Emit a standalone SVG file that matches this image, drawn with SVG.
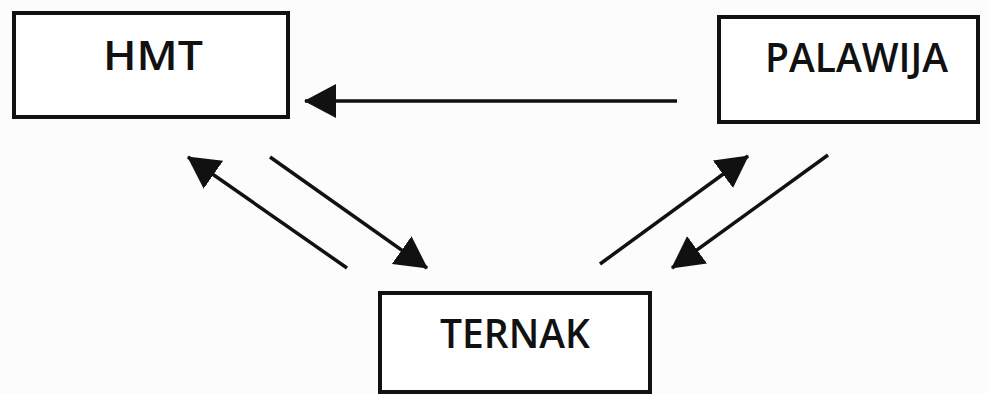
<svg xmlns="http://www.w3.org/2000/svg" width="988" height="394" viewBox="0 0 988 394">
<defs>
<style>
.box{fill:#fefefe;stroke:#111;stroke-width:4}
.lbl{font-family:"Open Sans","Liberation Sans",sans-serif;font-weight:600;font-size:39px;fill:#111}
.con{stroke:#111;stroke-width:3.5;fill:none;marker-end:url(#ah)}
</style>
<marker id="ah" markerUnits="userSpaceOnUse" markerWidth="34" markerHeight="34" viewBox="0 0 34 34" refX="31" refY="17" orient="auto">
<path d="M0,0 L32,17 L0,34 Z" fill="#111"/>
</marker>
</defs>
<rect width="988" height="394" fill="#fcfcfc"/>
<g id="hmt">
<rect class="box" x="14" y="13" width="274" height="104"/>
<text class="lbl" x="103" y="70" textLength="100" lengthAdjust="spacingAndGlyphs">HMT</text>
</g>
<g id="palawija">
<rect class="box" x="719" y="17" width="259" height="105"/>
<text class="lbl" x="765" y="72" textLength="183" lengthAdjust="spacingAndGlyphs">PALAWIJA</text>
</g>
<g id="ternak">
<rect class="box" x="380" y="293" width="270" height="99"/>
<text class="lbl" x="440" y="348" textLength="150" lengthAdjust="spacingAndGlyphs">TERNAK</text>
</g>
<g id="connectors">
<line class="con" x1="677" y1="101" x2="305" y2="101"/>
<line class="con" x1="347" y1="268" x2="188" y2="157"/>
<line class="con" x1="270" y1="157" x2="427" y2="268"/>
<line class="con" x1="600" y1="264" x2="748" y2="156"/>
<line class="con" x1="828" y1="155" x2="672" y2="268"/>
</g>
</svg>
